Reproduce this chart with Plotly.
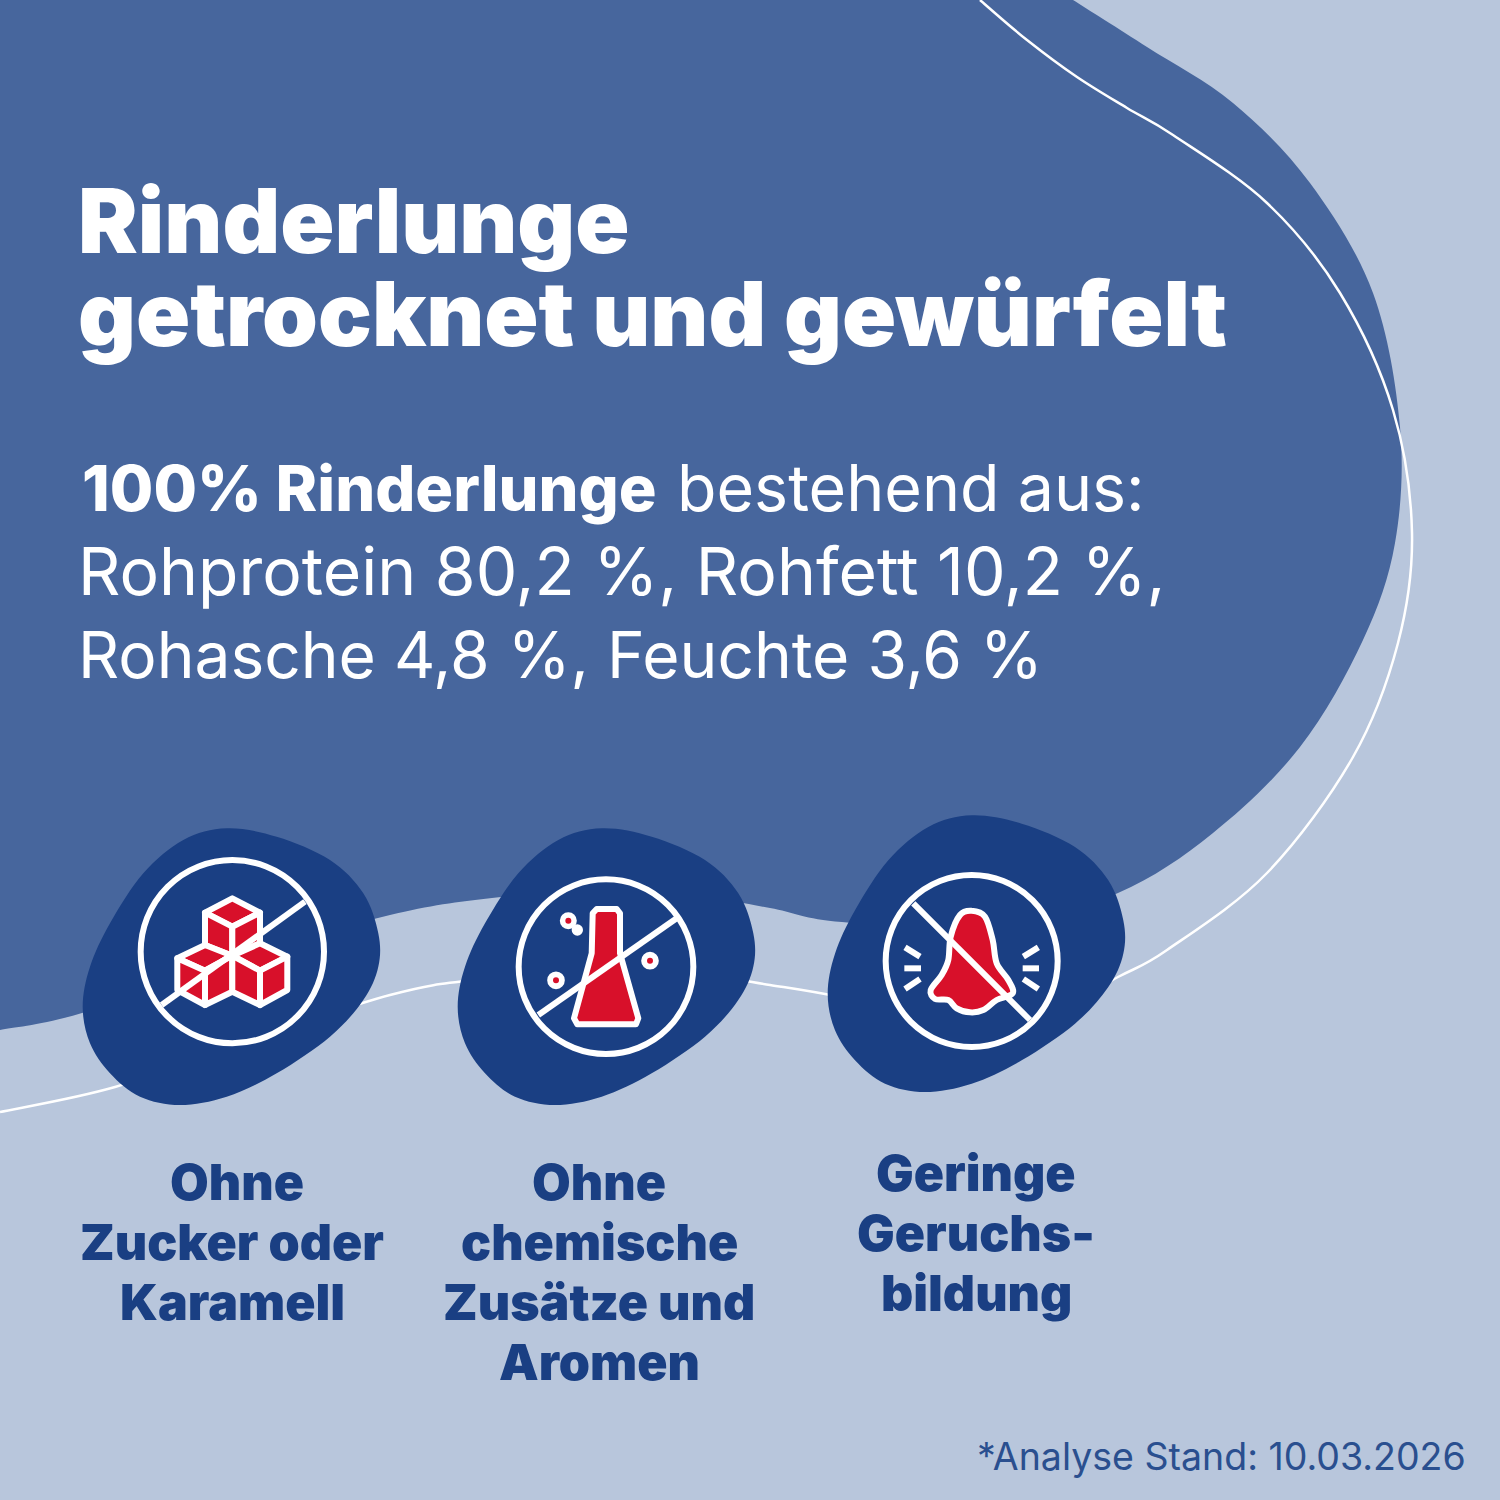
import plotly.graph_objects as go

BG = "#B8C6DC"
MID = "#47669D"
DARK = "#1A3F83"
RED = "#D8102A"
WHITE = "#FFFFFF"
SANS = "Inter"

# texts
title_lines = ["Rinderlunge", "getrocknet und gewürfelt"]
intro_bold = "100% Rinderlunge"
intro_rest = "bestehend aus:"
nutrient_lines = ["Rohprotein 80,2 %, Rohfett 10,2 %,", "Rohasche 4,8 %, Feuchte 3,6 %"]
labels_one = ["Ohne", "Zucker oder", "Karamell"]
labels_two = ["Ohne", "chemische", "Zusätze und", "Aromen"]
labels_three = ["Geringe", "Geruchs-", "bildung"]
footnote = "*Analyse Stand: 10.03.2026"

# outlines, in image pixels
big_edge = [(1073, 0), (1147, 47), (1233, 103), (1310, 183), (1373, 293), (1400, 427), (1395, 543),
            (1363, 640), (1300, 747), (1213, 833), (1118, 893), (1000, 925), (842, 922), (770, 908),
            (700, 897), (600, 893), (492, 898), (390, 915), (250, 955), (82, 1013), (0, 1030)]
thin_line = [(980, 0), (1027, 40), (1077, 77), (1127, 108), (1173, 135), (1267, 203), (1340, 293), (1393, 410),
             (1412, 533), (1398, 643), (1353, 757), (1267, 873), (1167, 950), (1118, 977), (1050, 1012), (940, 1020),
             (840, 997), (770, 985), (700, 975), (600, 973), (475, 980), (390, 995), (250, 1040), (115, 1087), (0, 1112)]
# icon outlines are in 3x zoom units, relative to each icon's origin
blob = [(470, 55), (620, 80), (780, 150), (880, 250), (925, 370), (925, 470), (880, 570), (780, 680),
        (620, 790), (470, 860), (330, 885), (210, 860), (120, 790), (60, 700), (38, 590), (60, 470),
        (120, 340), (220, 190), (340, 90)]
cube_faces = [
    [(487, 265), (570, 308), (487, 350), (405, 308)],
    [(405, 308), (487, 350), (487, 437), (405, 405)],
    [(487, 350), (570, 308), (570, 400), (487, 437)],
    [(405, 405), (487, 437), (405, 482), (322, 445)],
    [(322, 445), (405, 482), (405, 585), (322, 540)],
    [(405, 482), (487, 437), (487, 545), (405, 585)],
    [(570, 400), (652, 440), (570, 482), (487, 437)],
    [(487, 437), (570, 482), (570, 585), (487, 545)],
    [(570, 482), (652, 440), (652, 540), (570, 585)],
]
flask = [(428, 310), (440, 297), (500, 297), (510, 310), (510, 430), (565, 625), (558, 643), (382, 643),
         (372, 625), (425, 430)]
bubbles = [(355, 332, 24), (318, 511, 25), (600, 452, 25)]
small_bubble = (382, 360, 17)
nose = [(455, 332), (495, 350), (518, 420), (530, 490), (565, 540), (578, 580), (530, 600), (490, 630),
        (450, 637), (410, 625), (385, 600), (345, 597), (332, 570), (365, 525), (385, 480), (392, 410), (420, 345)]
smell_ticks = [[(255, 442), (300, 470)], [(253, 505), (303, 505)], [(255, 567), (300, 537)],
               [(655, 442), (610, 470)], [(608, 505), (657, 505)], [(610, 537), (655, 567)]]


def smooth(points, closed=False):
    # catmull-rom through the points, written as svg curves
    n = len(points)
    path = "M%.1f,%.1f" % points[0]
    for i in range(n if closed else n - 1):
        if closed:
            p0, p1, p2, p3 = points[(i - 1) % n], points[i], points[(i + 1) % n], points[(i + 2) % n]
        else:
            p0, p1, p2, p3 = points[max(i - 1, 0)], points[i], points[i + 1], points[min(i + 2, n - 1)]
        c1 = (p1[0] + (p2[0] - p0[0]) / 6, p1[1] + (p2[1] - p0[1]) / 6)
        c2 = (p2[0] - (p3[0] - p1[0]) / 6, p2[1] - (p3[1] - p1[1]) / 6)
        path += " C%.1f,%.1f %.1f,%.1f %.1f,%.1f" % (*c1, *c2, *p2)
    return path + (" Z" if closed else "")


def place(points, ox, oy):
    return [(ox + x / 3, oy + y / 3) for x, y in points]


fig = go.Figure()
fig.add_trace(go.Scatter(x=[0, 1500], y=[0, 1500], mode="markers", marker=dict(opacity=0), hoverinfo="skip"))


def add_path(path, fill=None, color=None, width=0):
    fig.add_shape(type="path", path=path, xref="x", yref="y", fillcolor=fill,
                  line=dict(color=color, width=width))


def add_circle(cx, cy, r, fill=None, color=None, width=0):
    fig.add_shape(type="circle", xref="x", yref="y", x0=cx - r, x1=cx + r, y0=cy - r, y1=cy + r,
                  fillcolor=fill, line=dict(color=color, width=width))


def add_stroke(a, b, width=6):
    fig.add_shape(type="line", xref="x", yref="y", x0=a[0], y0=a[1], x1=b[0], y1=b[1],
                  line=dict(color=WHITE, width=width))


# background shapes
add_path(smooth(big_edge) + " L0,0 Z", fill=MID)
add_path(smooth(thin_line), color=WHITE, width=2.5)

# icon 1: sugar cubes
ox, oy = 70, 810
add_path(smooth(place(blob, ox, oy), closed=True), fill=DARK)
for face in cube_faces:
    pts = place(face, ox, oy)
    add_path("M" + " L".join("%.1f,%.1f" % p for p in pts) + " Z", fill=RED, color=WHITE, width=6)
add_circle(ox + 487 / 3, oy + 425 / 3, 275 / 3, color=WHITE, width=6)
add_stroke((ox + 275 / 3, oy + 585 / 3), (ox + 705 / 3, oy + 275 / 3))

# icon 2: flask
ox, oy = 445, 810
add_path(smooth(place(blob, ox, oy), closed=True), fill=DARK)
ox = 450
add_path("M" + " L".join("%.1f,%.1f" % p for p in place(flask, ox, oy)) + " Z", fill=RED, color=WHITE, width=6)
for x, y, r in bubbles:
    cx, cy = place([(x, y)], ox, oy)[0]
    add_circle(cx, cy, r / 3 + 0.5, fill=WHITE)
    add_circle(cx, cy, 3, fill=RED)
cx, cy = place([small_bubble[:2]], ox, oy)[0]
add_circle(cx, cy, small_bubble[2] / 3, fill=WHITE)
add_circle(ox + 468 / 3, oy + 470 / 3, 262 / 3, color=WHITE, width=6)
add_stroke((ox + 265 / 3, oy + 615 / 3), (ox + 680 / 3, oy + 325 / 3))

# icon 3: nose
ox, oy = 815, 797
add_path(smooth(place(blob, ox, oy), closed=True), fill=DARK)
ox, oy = 820, 800
add_path(smooth(place(nose, ox, oy), closed=True), fill=RED, color=WHITE, width=6)
for tick in smell_ticks:
    a, b = place(tick, ox, oy)
    add_stroke(a, b, width=6)
add_circle(ox + 455 / 3, oy + 483 / 3, 258 / 3, color=WHITE, width=6)
add_stroke((ox + 280 / 3, oy + 310 / 3), (ox + 630 / 3, oy + 660 / 3))


def add_text(text, x, y, size, color=WHITE, weight=400, anchor="left"):
    fig.add_annotation(x=x, y=y, xref="x", yref="y", text=text, showarrow=False, xanchor=anchor, yanchor="middle",
                       align=anchor, borderpad=0,
                       font=dict(family=SANS, size=size, color=color, weight=weight))


add_text(title_lines[0], 77, 220, 89.5, weight=900)
add_text(title_lines[1], 77, 313, 89.5, weight=900)
add_text(intro_bold, 81, 488, 63, weight=800)
add_text(intro_rest, 676, 488, 64.5)
add_text(nutrient_lines[0], 77, 571, 66)
add_text(nutrient_lines[1], 77, 654, 64)

for line, x, y in zip(labels_one, [237, 232, 232], [1182, 1242, 1302]):
    add_text(line, x, y, 50, color=DARK, weight=900, anchor="center")
for line, y in zip(labels_two, [1182, 1242, 1302, 1362]):
    add_text(line, 599, y, 50, color=DARK, weight=900, anchor="center")
for line, y in zip(labels_three, [1173, 1233, 1293]):
    add_text(line, 976, y, 50, color=DARK, weight=900, anchor="center")
add_text(footnote, 1467, 1456, 37.5, color="#2A4F8F", anchor="right")

fig.update_layout(
    width=1500,
    height=1500,
    margin=dict(l=0, r=0, t=0, b=0),
    paper_bgcolor=BG,
    plot_bgcolor=BG,
    showlegend=False,
    xaxis=dict(range=[0, 1500], visible=False, fixedrange=True),
    yaxis=dict(range=[1500, 0], visible=False, fixedrange=True),
)

fig.write_html("out.html", config=dict(displayModeBar=False),
               post_script="document.body.style.margin='0';document.body.style.overflow='hidden';"
                           "document.querySelectorAll('.shapelayer path').forEach(p=>p.style.strokeLinejoin='round');")
